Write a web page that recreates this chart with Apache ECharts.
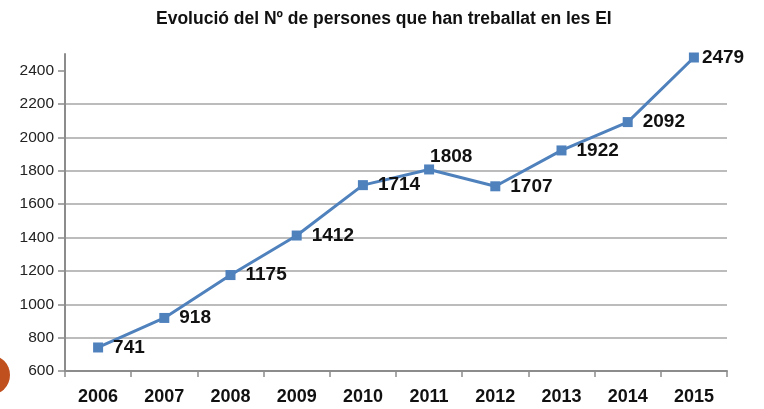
<!DOCTYPE html>
<html>
<head>
<meta charset="utf-8">
<script src="https://cdn.jsdelivr.net/npm/echarts@6/dist/echarts.min.js"></script>
<style>
  html, body { margin: 0; padding: 0; background: #fff; }
  #chart { width: 764px; height: 409px; }
</style>
</head>
<body>
<div id="chart"></div>
<script>
var titleText = 'Evolució del Nº de persones que han treballat en les EI';
var years = ['2006', '2007', '2008', '2009', '2010', '2011', '2012', '2013', '2014', '2015'];
var persones = [741, 918, 1175, 1412, 1714, 1808, 1707, 1922, 2092, 2479];
var yTicks = [600, 800, 1000, 1200, 1400, 1600, 1800, 2000, 2200, 2400];

var chart = echarts.init(document.getElementById('chart'));

// 1808 gets its label above, the last one sits tight to the marker
var seriesData = persones.map(function (v, i) {
  var d = { value: v };
  if (years[i] === '2011') {
    d.label = { position: [6, -8], align: 'left', verticalAlign: 'middle' };
  }
  if (years[i] === '2015') {
    d.label = { distance: 3 };
  }
  return d;
});

var option = {
  animation: false,
  title: {
    text: titleText,
    left: 151,
    top: 5,
    textStyle: { fontFamily: 'Liberation Sans', fontWeight: 'bold', fontSize: 17.5, color: '#111' }
  },
  grid: { left: 65, right: 37, top: 54, bottom: 38, containLabel: false },
  xAxis: {
    type: 'category',
    data: years,
    boundaryGap: true,
    axisLine: { lineStyle: { color: '#8c8c8c', width: 2 } },
    axisTick: { show: true, length: 6, lineStyle: { color: '#8c8c8c', width: 1.5 } },
    axisLabel: { margin: 17, fontFamily: 'Liberation Sans', fontWeight: 'bold', fontSize: 18, color: '#111' }
  },
  yAxis: {
    type: 'value',
    min: 600,
    max: 2500,
    interval: 200,
    axisLine: { show: true, lineStyle: { color: '#8c8c8c', width: 2 } },
    axisTick: { show: true, length: 7, customValues: yTicks, lineStyle: { color: '#8c8c8c', width: 1.5 } },
    axisLabel: {
      margin: 11,
      customValues: yTicks,
      formatter: function (v) { return String(v); },
      fontFamily: 'Liberation Sans',
      fontSize: 15.5,
      color: '#222'
    },
    splitLine: { show: true, showMinLine: false, showMaxLine: false, lineStyle: { color: '#a6a6a6', width: 1.5 } }
  },
  graphic: [{
    type: 'circle',
    shape: { cx: -10, cy: 375, r: 20 },
    style: { fill: '#c0501e' }
  }],
  series: [{
    type: 'line',
    data: seriesData,
    symbol: 'rect',
    symbolSize: 10,
    lineStyle: { color: '#4f81bd', width: 3 },
    itemStyle: { color: '#4f81bd' },
    label: {
      show: true,
      position: 'right',
      distance: 10,
      fontFamily: 'Liberation Sans',
      fontWeight: 'bold',
      fontSize: 19,
      color: '#111'
    }
  }]
};

chart.setOption(option);
</script>
</body>
</html>
